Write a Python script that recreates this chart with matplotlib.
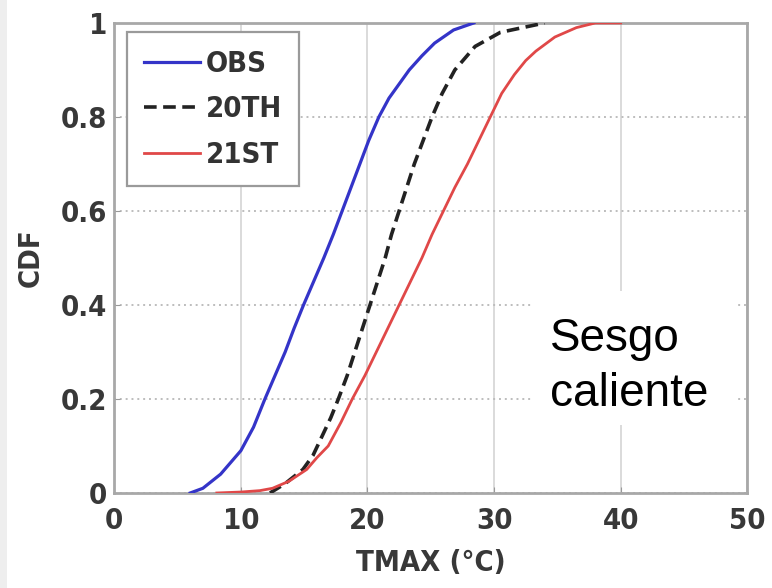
import numpy as np
import matplotlib.pyplot as plt
from matplotlib.patches import Rectangle

# CDF curves
obs_x = [6.0, 7.0, 8.4, 10.0, 11.0, 11.9, 12.7, 13.5, 14.2, 14.95, 15.75, 16.55, 17.3, 18.0,
         18.7, 19.4, 20.1, 20.9, 21.7, 22.5, 23.3, 24.3, 25.3, 26.8, 28.4]
obs_y = [0.0, 0.01, 0.04, 0.09, 0.14, 0.2, 0.25, 0.3, 0.35, 0.4, 0.45, 0.5, 0.55, 0.6,
         0.65, 0.7, 0.75, 0.8, 0.84, 0.87, 0.9, 0.93, 0.957, 0.985, 1.0]

th20_x = [12.3, 13.5, 14.9, 15.7, 16.4, 17.1, 17.7, 18.4, 19.0, 19.6, 20.2, 20.8, 21.4,
          21.9, 22.5, 23.1, 23.7, 24.4, 25.1, 25.9, 26.9, 28.5, 30.5, 34.0]
th20_y = [0.0, 0.02, 0.05, 0.08, 0.12, 0.16, 0.2, 0.25, 0.3, 0.35, 0.4, 0.45, 0.5,
          0.55, 0.6, 0.65, 0.7, 0.75, 0.8, 0.85, 0.9, 0.95, 0.98, 1.0]

st21_x = [8.1, 10.0, 11.5, 12.5, 13.8, 15.2, 16.0, 16.9, 17.9, 18.8, 19.8, 20.7, 21.6,
          22.5, 23.4, 24.3, 25.1, 26.0, 26.9, 27.9, 28.8, 29.7, 30.6, 31.6, 32.5,
          33.3, 34.8, 36.5, 38.0, 40.0]
st21_y = [0.0, 0.002, 0.005, 0.01, 0.025, 0.05, 0.075, 0.1, 0.15, 0.2, 0.25, 0.3, 0.35,
          0.4, 0.45, 0.5, 0.55, 0.6, 0.65, 0.7, 0.75, 0.8, 0.85, 0.89, 0.92,
          0.94, 0.97, 0.99, 1.0, 1.0]

labels = ['OBS', '20TH', '21ST']
xticks = [0, 10, 20, 30, 40, 50]
yticks = [0, 0.2, 0.4, 0.6, 0.8, 1]
yticklabels = ['0', '0.2', '0.4', '0.6', '0.8', '1']

tick_font = dict(family='DejaVu Sans', stretch='condensed', weight='bold', size=21,
                 color='#383838')

fig = plt.figure(figsize=(7.72, 5.88), dpi=100)
fig.patch.set_facecolor('white')
fig.patches.append(Rectangle((0, 0), 0.009, 1, transform=fig.transFigure,
                             facecolor='#eeeeee', edgecolor='none'))
ax = fig.add_axes([0.148, 0.1616, 0.820, 0.7994])

ax.plot(obs_x, obs_y, color='#3434c8', lw=2.3, label=labels[0], zorder=3)
ax.plot(th20_x, th20_y, color='#222222', lw=2.6, ls=(0, (3.5, 1.8)), label=labels[1], zorder=3)
ax.plot(st21_x, st21_y, color='#e04848', lw=2.0, label=labels[2], zorder=3)

ax.set_xlim(0, 50)
ax.set_ylim(0, 1)
ax.set_xticks(xticks)
ax.set_yticks(yticks)
ax.set_xticklabels([str(v) for v in xticks], fontdict=tick_font)
ax.set_yticklabels(yticklabels, fontdict=tick_font)
ax.tick_params(direction='in', length=4, color='#999999')
ax.tick_params(axis='x', pad=10)
ax.tick_params(axis='y', pad=5)

ax.set_axisbelow(True)
ax.xaxis.grid(True, color='#d4d4d4', lw=1.2, ls='-')
ax.yaxis.grid(True, color='#bdbdbd', lw=1.4, ls=(0, (1, 2)))
for sp in ax.spines.values():
    sp.set_color('#a8a8a8')
    sp.set_linewidth(2.0)

ax.set_xlabel('TMAX (°C)', fontdict=tick_font, labelpad=10)
ax.set_ylabel('CDF', fontdict=tick_font, labelpad=12)

# white box behind annotation
ax.add_patch(Rectangle((33.0, 0.145), 16.2, 0.285, facecolor='white', edgecolor='none', zorder=2))
ax.text(34.4, 0.302, 'Sesgo', family='Liberation Sans', fontsize=33, color='black', zorder=4)
ax.text(34.4, 0.185, 'caliente', family='Liberation Sans', fontsize=33, color='black', zorder=4)

leg = ax.legend(loc='upper left', bbox_to_anchor=(0.02, 0.98), borderaxespad=0,
                prop=dict(family='DejaVu Sans', stretch='condensed', weight='bold', size=21),
                handlelength=1.9, handletextpad=0.2, labelspacing=0.6,
                borderpad=0.6, fancybox=False, framealpha=1)
leg.get_frame().set_edgecolor('#9a9a9a')
leg.get_frame().set_linewidth(1.6)
for t in leg.get_texts():
    t.set_color('#333333')

fig.savefig('out.png', dpi=100)
